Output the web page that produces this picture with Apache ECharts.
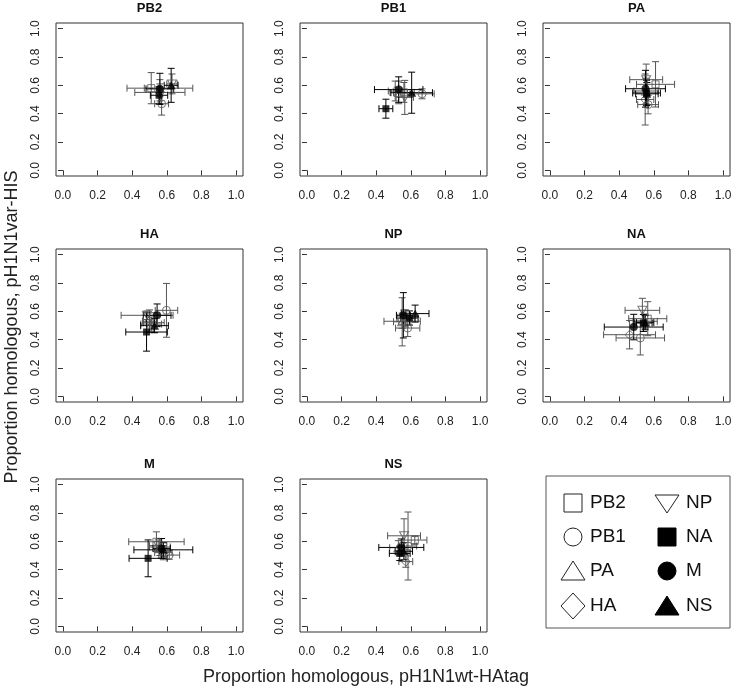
<!DOCTYPE html>
<html>
<head>
<meta charset="utf-8">
<script src="https://cdn.jsdelivr.net/npm/echarts@6/dist/echarts.min.js"></script>
<style>html,body{margin:0;padding:0;background:#fff;}#c{width:733px;height:693px;}</style>
</head>
<body>
<div id="c"></div>
<script>
// Segment names (used both for panels and for points inside each panel)
const segments = ['PB2', 'PB1', 'PA', 'HA', 'NP', 'NA', 'M', 'NS'];
const tickValues = [0, 0.2, 0.4, 0.6, 0.8, 1.0];
const xTitle = 'Proportion homologous, pH1N1wt-HAtag';
const yTitle = 'Proportion homologous, pH1N1var-HIS';

// rows = panel, cols = segment point (PB2, PB1, PA, HA, NP, NA, M, NS)
const meanX = [
  [0.51, 0.57, 0.56, 0.56, 0.63, 0.555, 0.56, 0.625],
  [0.56, 0.665, 0.53, 0.51, 0.565, 0.456, 0.53, 0.605],
  [0.61, 0.567, 0.555, 0.55, 0.556, 0.558, 0.552, 0.56],
  [0.525, 0.598, 0.51, 0.50, 0.486, 0.483, 0.544, 0.529],
  [0.55, 0.582, 0.55, 0.57, 0.56, 0.592, 0.557, 0.625],
  [0.565, 0.522, 0.55, 0.46, 0.534, 0.54, 0.484, 0.55],
  [0.54, 0.614, 0.56, 0.58, 0.55, 0.492, 0.57, 0.58],
  [0.623, 0.584, 0.528, 0.571, 0.561, 0.536, 0.545, 0.56]
];
const meanY = [
  [0.58, 0.47, 0.58, 0.55, 0.61, 0.53, 0.575, 0.60],
  [0.55, 0.54, 0.55, 0.56, 0.515, 0.435, 0.57, 0.548],
  [0.607, 0.464, 0.56, 0.50, 0.64, 0.546, 0.576, 0.54],
  [0.52, 0.607, 0.51, 0.53, 0.572, 0.454, 0.572, 0.499],
  [0.53, 0.482, 0.526, 0.55, 0.56, 0.553, 0.572, 0.584],
  [0.548, 0.412, 0.53, 0.435, 0.607, 0.518, 0.489, 0.52],
  [0.597, 0.503, 0.56, 0.52, 0.57, 0.48, 0.55, 0.54],
  [0.609, 0.567, 0.555, 0.457, 0.639, 0.515, 0.557, 0.53]
];
const errX = [
  [0.04, 0.04, 0.19, 0.145, 0.03, 0.05, 0.08, 0.04],
  [0.06, 0.07, 0.05, 0.04, 0.05, 0.04, 0.14, 0.12],
  [0.11, 0.06, 0.07, 0.05, 0.095, 0.08, 0.115, 0.065],
  [0.06, 0.065, 0.06, 0.04, 0.15, 0.12, 0.08, 0.08],
  [0.105, 0.07, 0.05, 0.05, 0.04, 0.05, 0.04, 0.08],
  [0.11, 0.14, 0.07, 0.15, 0.10, 0.05, 0.17, 0.05],
  [0.16, 0.06, 0.06, 0.05, 0.05, 0.11, 0.05, 0.17],
  [0.07, 0.05, 0.05, 0.04, 0.095, 0.06, 0.13, 0.05]
];
const errY = [
  [0.11, 0.08, 0.06, 0.06, 0.07, 0.06, 0.11, 0.12],
  [0.07, 0.035, 0.08, 0.07, 0.12, 0.067, 0.09, 0.145],
  [0.16, 0.065, 0.09, 0.18, 0.11, 0.09, 0.13, 0.08],
  [0.07, 0.19, 0.05, 0.08, 0.03, 0.135, 0.08, 0.05],
  [0.05, 0.06, 0.17, 0.06, 0.05, 0.05, 0.16, 0.06],
  [0.12, 0.12, 0.05, 0.10, 0.085, 0.06, 0.09, 0.05],
  [0.07, 0.03, 0.06, 0.05, 0.04, 0.13, 0.07, 0.05],
  [0.03, 0.24, 0.05, 0.04, 0.12, 0.05, 0.06, 0.06]
];

const FONT = 'Liberation Sans, Arial, Helvetica, sans-serif';
const openCol = '#555';
const fillCol = '#000';
const symbolDefs = [
  {symbol: 'rect', size: 7, rot: 0, filled: false},
  {symbol: 'circle', size: 8, rot: 0, filled: false},
  {symbol: 'triangle', size: [9, 8], rot: 0, filled: false},
  {symbol: 'diamond', size: [9, 9], rot: 0, filled: false},
  {symbol: 'triangle', size: [9, 8], rot: 180, filled: false},
  {symbol: 'rect', size: 7, rot: 0, filled: true},
  {symbol: 'circle', size: 8, rot: 0, filled: true},
  {symbol: 'triangle', size: [9, 8], rot: 0, filled: true}
];

const colLeft = [56, 300, 543];
const rowTop = [23, 249, 479];
const gw = 187, gh = 153;

const grids = [], xAxes = [], yAxes = [], series = [], graphic = [];

segments.forEach((name, p) => {
  const r = Math.floor(p / 3), c = p % 3;
  const left = colLeft[c], top = rowTop[r];
  grids.push({left: left, top: top, width: gw, height: gh, show: true,
    borderColor: '#333', borderWidth: 1, backgroundColor: 'transparent',
    containLabel: false, outerBoundsMode: 'none'});
  xAxes.push({type: 'value', gridIndex: p, min: -0.04, max: 1.04,
    axisLine: {show: false},
    axisTick: {show: true, inside: false, length: 5, lineStyle: {color: '#333'}, customValues: tickValues},
    axisLabel: {show: true, customValues: tickValues, formatter: v => v.toFixed(1),
      fontSize: 12, color: '#222', margin: 14, fontFamily: FONT},
    splitLine: {show: false}});
  yAxes.push({type: 'value', gridIndex: p, min: -0.04, max: 1.04,
    axisLine: {show: false},
    axisTick: {show: true, inside: false, length: 5, lineStyle: {color: '#333'}, customValues: tickValues},
    axisLabel: {show: true, customValues: tickValues, formatter: v => v.toFixed(1), rotate: 90,
      fontSize: 12, color: '#222', margin: 14, fontFamily: FONT},
    splitLine: {show: false}});

  const rows = segments.map((s, k) => [meanX[p][k], meanY[p][k], errX[p][k], errY[p][k], k]);

  series.push({
    type: 'custom', xAxisIndex: p, yAxisIndex: p, clip: false, silent: true,
    encode: {x: 0, y: 1},
    data: rows,
    renderItem: function (params, api) {
      const x = api.value(0), y = api.value(1), ex = api.value(2), ey = api.value(3), k = api.value(4);
      const col = symbolDefs[k].filled ? fillCol : openCol;
      const a = api.coord([x - ex, y]), b = api.coord([x + ex, y]);
      const d = api.coord([x, y - ey]), u = api.coord([x, y + ey]);
      const cap = 3.5;
      const st = {stroke: col, lineWidth: 1};
      const L = (x1, y1, x2, y2) => ({type: 'line', shape: {x1, y1, x2, y2}, style: st});
      return {type: 'group', children: [
        L(a[0], a[1], b[0], b[1]),
        L(a[0], a[1] - cap, a[0], a[1] + cap),
        L(b[0], b[1] - cap, b[0], b[1] + cap),
        L(d[0], d[1], u[0], u[1]),
        L(d[0] - cap, d[1], d[0] + cap, d[1]),
        L(u[0] - cap, u[1], u[0] + cap, u[1])
      ]};
    }
  });

  series.push({
    type: 'scatter', xAxisIndex: p, yAxisIndex: p, silent: true,
    data: segments.map((s, k) => {
      const sd = symbolDefs[k];
      const col = sd.filled ? fillCol : openCol;
      return {
        name: s,
        value: [meanX[p][k], meanY[p][k]],
        symbol: sd.symbol, symbolSize: sd.size, symbolRotate: sd.rot,
        itemStyle: sd.filled ? {color: col, borderWidth: 0}
                             : {color: 'rgba(0,0,0,0)', borderColor: col, borderWidth: 1}
      };
    }),
    emphasis: {disabled: true}
  });

  graphic.push({type: 'text', x: left + gw / 2, y: top - 15,
    style: {text: name, font: 'bold 13px ' + FONT, fill: '#111',
      textAlign: 'center', align: 'center', textVerticalAlign: 'middle', verticalAlign: 'middle'}});
});

// Axis titles
graphic.push({type: 'text', x: 366, y: 677,
  style: {text: xTitle, font: '18px ' + FONT, fill: '#222',
    textAlign: 'center', align: 'center', textVerticalAlign: 'middle', verticalAlign: 'middle'}});
graphic.push({type: 'text', x: 12, y: 327, rotation: Math.PI / 2,
  style: {text: yTitle, font: '18px ' + FONT, fill: '#222',
    textAlign: 'center', align: 'center', textVerticalAlign: 'middle', verticalAlign: 'middle'}});

// Legend box
const LG = {x: 546, y: 476, w: 184, h: 152};
graphic.push({type: 'rect', shape: {x: LG.x, y: LG.y, width: LG.w, height: LG.h},
  style: {fill: 'none', stroke: '#555', lineWidth: 1}});
const legCols = [573, 667];
const legTextX = [590, 686];
const legRows = [503, 537, 571, 606];
const sOpen = {fill: 'none', stroke: '#222', lineWidth: 1};
const sFill = {fill: '#000', stroke: '#000', lineWidth: 1};
segments.forEach((s, k) => {
  const c = Math.floor(k / 4), r = k % 4;
  const cx = legCols[c], cy = legRows[r];
  const st = symbolDefs[k].filled ? sFill : sOpen;
  let el;
  if (k === 0 || k === 5) {
    el = {type: 'rect', shape: {x: cx - 9, y: cy - 9, width: 18, height: 18}, style: st};
  } else if (k === 1 || k === 6) {
    el = {type: 'circle', shape: {cx: cx, cy: cy, r: 9}, style: st};
  } else if (k === 2 || k === 7) {
    el = {type: 'polygon', shape: {points: [[cx, cy - 10], [cx + 12, cy + 9], [cx - 12, cy + 9]]}, style: st};
  } else if (k === 3) {
    el = {type: 'polygon', shape: {points: [[cx, cy - 13], [cx + 12, cy], [cx, cy + 13], [cx - 12, cy]]}, style: st};
  } else {
    el = {type: 'polygon', shape: {points: [[cx - 12, cy - 8], [cx + 12, cy - 8], [cx, cy + 10]]}, style: st};
  }
  graphic.push(el);
  graphic.push({type: 'text', x: legTextX[c], y: cy,
    style: {text: s, font: '19px ' + FONT, fill: '#111',
      textAlign: 'left', align: 'left', textVerticalAlign: 'middle', verticalAlign: 'middle'}});
});

const chart = echarts.init(document.getElementById('c'), null, {renderer: 'canvas'});
chart.setOption({
  animation: false,
  backgroundColor: '#fff',
  grid: grids,
  xAxis: xAxes,
  yAxis: yAxes,
  series: series,
  graphic: graphic
});
</script>
</body>
</html>
